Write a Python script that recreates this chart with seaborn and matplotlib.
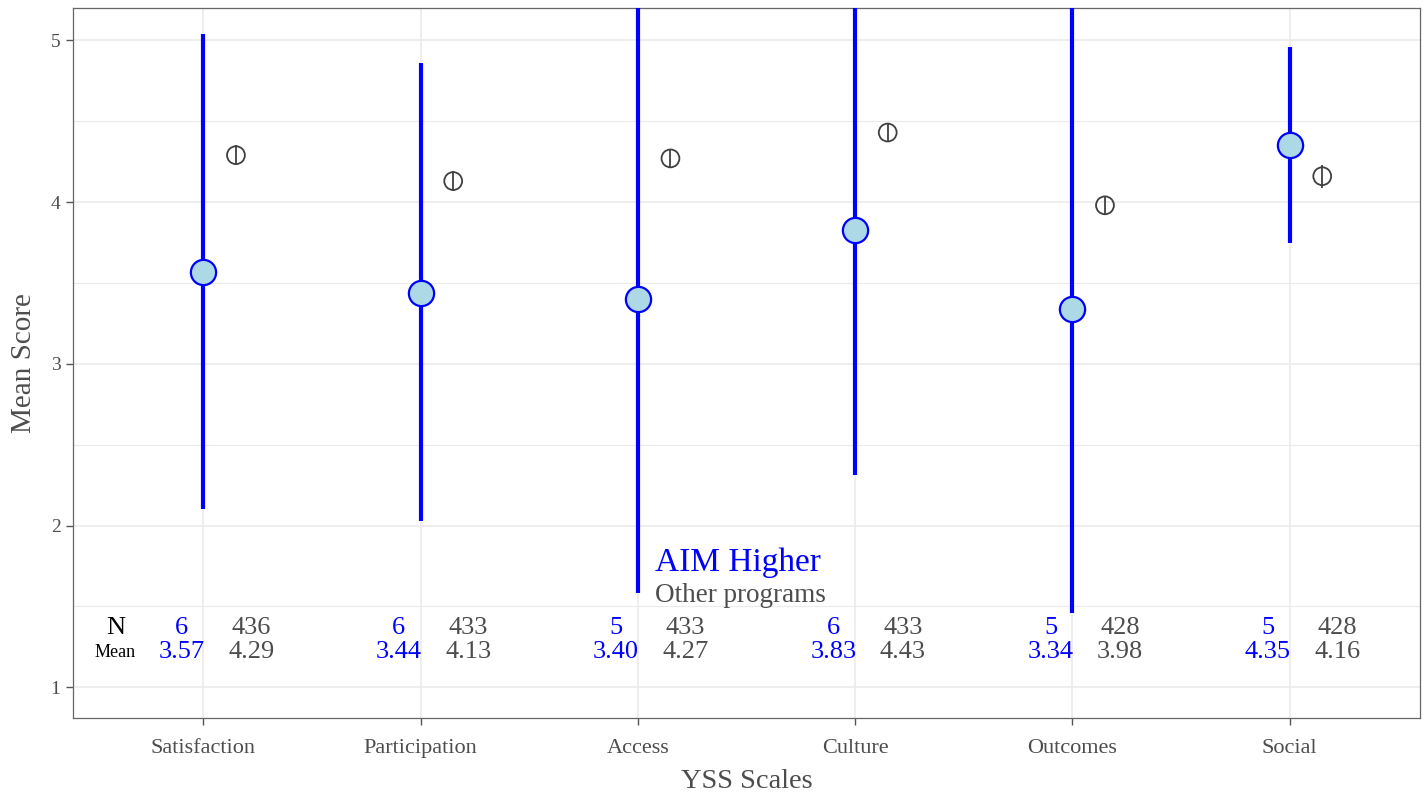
import numpy as np
import pandas as pd
import matplotlib
matplotlib.use("Agg")
import matplotlib.pyplot as plt
import seaborn as sns

categories = ["Satisfaction", "Participation", "Access", "Culture", "Outcomes", "Social"]
aim_mean = [3.57, 3.44, 3.40, 3.83, 3.34, 4.35]
aim_lo = [2.10, 2.03, 1.58, 2.31, 1.46, 3.75]
aim_hi = [5.04, 4.86, 5.22, 5.35, 5.22, 4.96]
aim_n = [6, 6, 5, 6, 5, 5]
other_mean = [4.29, 4.13, 4.27, 4.43, 3.98, 4.16]
other_lo = [4.23, 4.07, 4.21, 4.37, 3.92, 4.09]
other_hi = [4.35, 4.19, 4.33, 4.49, 4.04, 4.23]
other_n = [436, 433, 433, 433, 428, 428]

sns.set_theme(style="whitegrid")
plt.rcParams['font.family'] = ['Liberation Serif', 'DejaVu Serif']

fig = plt.figure(figsize=(14.27, 8.01), dpi=100)
ax = fig.add_axes([73/1427, 83/801, (1420-73)/1427, (718-8)/801])

pos = np.arange(1, len(categories) + 1)
df_aim = pd.DataFrame({"x": pos, "y": aim_mean})
df_oth = pd.DataFrame({"x": pos + 0.15, "y": other_mean})

ax.vlines(pos, aim_lo, aim_hi, color="#0000FF", lw=3, zorder=3)
sns.scatterplot(data=df_aim, x="x", y="y", s=330, color="#ADD8E6",
                edgecolor="#0000FF", linewidth=1.6, zorder=4, ax=ax)
ax.vlines(pos + 0.15, other_lo, other_hi, color="#404040", lw=1.3, zorder=3)
sns.scatterplot(data=df_oth, x="x", y="y", s=165, facecolor="none",
                edgecolor="#404040", linewidth=1.3, zorder=4, ax=ax)

for i, p in enumerate(pos):
    ax.text(p - 0.1, 1.365, str(aim_n[i]), color="#0000FF", fontsize=19, ha="center", va="center")
    ax.text(p - 0.1, 1.215, f"{aim_mean[i]:.2f}", color="#0000FF", fontsize=19, ha="center", va="center")
    ax.text(p + 0.22, 1.365, str(other_n[i]), color="#4D4D4D", fontsize=19, ha="center", va="center")
    ax.text(p + 0.22, 1.215, f"{other_mean[i]:.2f}", color="#4D4D4D", fontsize=19, ha="center", va="center")
ax.text(0.595, 1.365, "N", color="black", fontsize=19, ha="center", va="center")
ax.text(0.595, 1.215, "Mean", color="black", fontsize=13, ha="center", va="center")

ax.text(3.08, 1.77, "AIM Higher", color="#0000FF", fontsize=24, ha="left", va="center")
ax.text(3.08, 1.57, "Other programs", color="#4D4D4D", fontsize=19.5, ha="left", va="center")

ax.set_xlim(0.4, 6.6)
ax.set_ylim(0.81, 5.2)
ax.set_xticks(pos)
ax.set_xticklabels(categories)
ax.set_yticks([1, 2, 3, 4, 5])
ax.set_yticks([1.5, 2.5, 3.5, 4.5], minor=True)
ax.grid(True, which="major", color="#EBEBEB", lw=1.2)
ax.grid(True, which="minor", axis="y", color="#EBEBEB", lw=0.8)
ax.set_axisbelow(True)
ax.tick_params(axis="both", which="major", length=5, width=1, color="#555555",
               labelcolor="#4D4D4D", bottom=True, left=True, pad=3)
ax.tick_params(axis="x", labelsize=16, pad=10)
ax.tick_params(axis="y", labelsize=14, pad=4)
ax.tick_params(which="minor", length=0)
for s in ax.spines.values():
    s.set_color("#666666")
    s.set_linewidth(0.9)
ax.set_xlabel("YSS Scales", fontsize=20.5, color="#4D4D4D", labelpad=8)
ax.set_ylabel("Mean Score", fontsize=21, color="#4D4D4D", labelpad=10)
if ax.get_legend():
    ax.get_legend().remove()

fig.savefig("out.png", dpi=100)
